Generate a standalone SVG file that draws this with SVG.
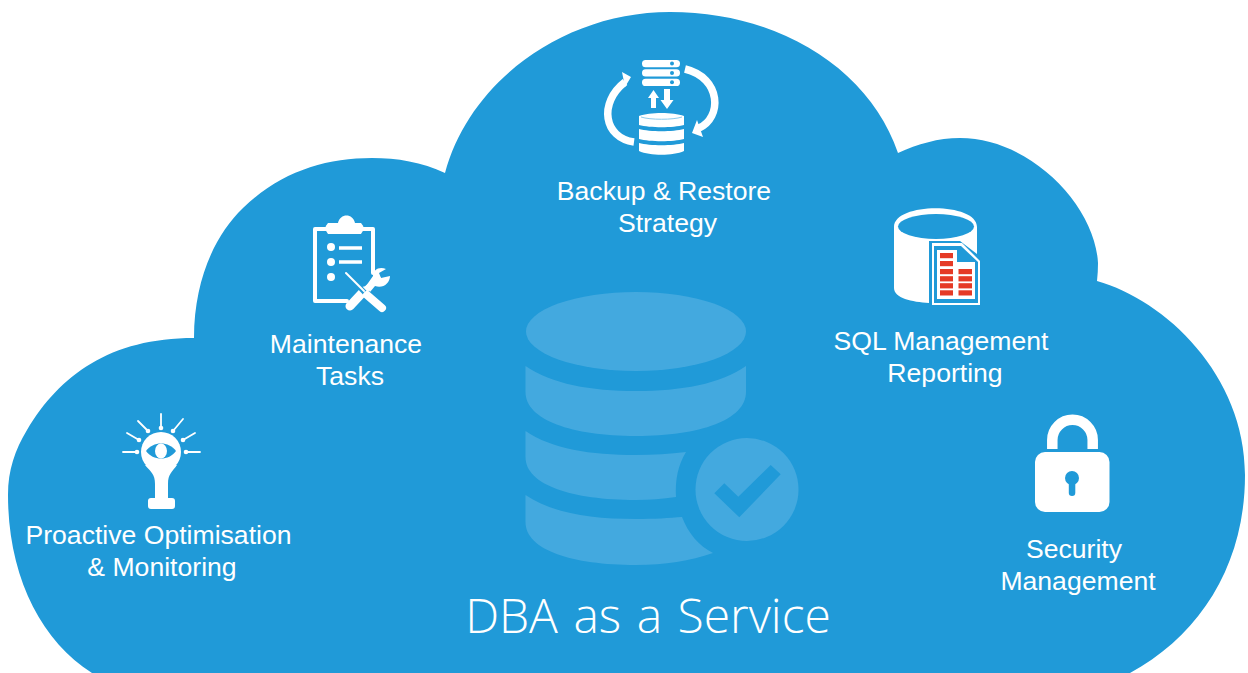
<svg xmlns="http://www.w3.org/2000/svg" width="1248" height="673" viewBox="0 0 1248 673">
<style>
.l{font-family:"Liberation Sans",Arial,sans-serif;font-size:26.6px;fill:#fff;text-anchor:middle}
.w{fill:#fff}
.s{fill:none;stroke:#fff;stroke-linecap:round;stroke-linejoin:round}
.t{fill:none;stroke:#fff;stroke-linecap:butt}
.b{fill:#209ad8}
.r{fill:#e53a26}
.f{fill:#43a9df}
</style>
<rect width="1248" height="673" fill="#fff"/>
<g id="cloud"><path class="b" d="M92 673C40 640 8 575 8 495C8 470 15 450 27 430C60 375 110 338 194 338C194 280 215 235 243 208C280 172 325 158 372 158C397 158 422 162 445 173C470 80 565 12 670 12C780 12 870 70 898 153C918 144 938 138 960 138C1030 138 1095 205 1098 263Q1098 272 1097 281C1165 300 1245 375 1245 475C1245 565 1200 635 1130 673Z"/></g>
<g id="center-db">
<ellipse class="f" cx="636" cy="331.500" rx="110" ry="39.500"/>
<path class="f" d="M525.500 366C552 384 590 391 636 391C682 391 720 384 746 366V392C746 420 700 436 636 436C572 436 525.500 420 525.500 392Z"/>
<path class="f" d="M525.500 431C552 449 590 455 636 455C654 455 670 454 686 452C678 465 675 480 676 497C662 499 650 500 636 500C572 500 525.500 485 525.500 457Z"/>
<path class="f" d="M525.500 495C552 513 590 519 636 519C654 519 670 518 682 517C688 533 699 546 713 553C690 561 665 565 636 565C572 565 525.500 550 525.500 522Z"/>
<circle class="f" cx="747" cy="489.500" r="51.500"/>
<path class="b" d="M714.300 493.300L724.300 483.300L738.300 496.700L770.700 465L780.700 474.300L739.300 517.300Z"/>
</g>
<g id="backup">
<g class="w"><rect x="642" y="60" width="38" height="7.300" rx="3.600"/><rect x="642" y="69.300" width="38" height="7.300" rx="3.600"/><rect x="642" y="78.700" width="38" height="7.300" rx="3.600"/></g>
<g class="b"><circle cx="672" cy="63.600" r="2"/><circle cx="672" cy="73" r="2"/><circle cx="672" cy="82.300" r="2"/></g>
<path class="w" d="M648 98L653.500 90L659 98H656V108H651V98ZM664 89H670V100H673.500L667 109L660.500 100H664Z"/>
<path class="w" d="M639 116C650 112 673 112 684 116V125C673 128 650 128 639 125ZM639 129C650 132 673 132 684 129V139C673 142 650 142 639 139ZM639 143C650 146 673 146 684 143V151C673 156 650 156 639 151Z"/>
<path d="M641 117C650 120 673 120 682 117" fill="none" stroke="#8ccbec" stroke-width="1"/>
<path class="t" stroke-width="7.500" d="M634 142C604 138 598 103 625 82M685 69C722 78 722 118 699 128"/>
<path class="w" d="M622 72L631 77L625 87ZM692 133L697 120L703 137Z"/>
</g>
<g id="maintenance">
<path class="s" stroke-width="4" d="M329 229H315V301H347M360 229H373V273"/>
<path class="w" d="M328 223H338C340 213 353 213 355 223H361Q366 228 361 234H328Q323 228 328 223Z"/>
<circle class="w" cx="331" cy="247" r="4"/><circle class="w" cx="331" cy="262" r="4"/><circle class="w" cx="331" cy="277" r="4"/>
<path class="t" stroke-width="3.400" d="M339 248H362M339 262H362"/>
<path class="s" stroke-width="9" d="M350 306L364 291"/>
<path class="s" stroke-width="6" d="M364 291L378 279"/>
<path class="w" d="M366 286L373 276C373 270 379 266 386 269L379 273L381 278L390 276C390 283 383 289 375 286L370 292Z"/>
<path d="M350 277L366 294" stroke="#209ad8" stroke-width="5" fill="none"/>
<path d="M367 296L382 309" stroke="#209ad8" stroke-width="11" fill="none"/>
<path class="s" stroke-width="2" d="M346 273L364 291"/>
<path class="s" stroke-width="8" d="M367 295L382 308"/>
</g>
<g id="sql">
<path class="w" d="M894 227C894 202 977 202 977 227V254L960 241H929V303C912 302 894 298 894 288Z"/>
<ellipse class="b" cx="936" cy="226.500" rx="38" ry="12.500"/>
<path class="w" d="M932 243H962L980 261V305H932Z"/>
<path class="b" d="M934 246H961L978 262V303H934Z"/>
<path class="w" d="M937 250H957V262H975V299H937Z"/>
<g class="r"><rect x="940" y="253" width="13" height="5.200"/><rect x="940" y="261" width="13" height="5.200"/><rect x="940" y="269" width="13" height="5.200"/><rect x="940" y="276.200" width="13" height="5.200"/><rect x="940" y="283.200" width="13" height="5.200"/><rect x="940" y="290.300" width="13" height="5.200"/><rect x="958.500" y="269" width="13.500" height="5.200"/><rect x="958.500" y="276.200" width="13.500" height="5.200"/><rect x="958.500" y="283.200" width="13.500" height="5.200"/><rect x="958.500" y="290.300" width="13.500" height="5.200"/></g>
</g>
<g id="proactive">
<circle class="w" cx="161" cy="452" r="20"/>
<path class="w" d="M145 465C151 472 155 474 155 484V498H151Q148 498 148 501V506Q148 509 151 509H172Q175 509 175 506V501Q175 498 172 498H168V484C168 474 172 472 177 465Z"/>
<path class="b" d="M146 451C153 441 169 441 176 451C169 461 153 461 146 451Z"/><ellipse class="w" cx="161" cy="451" rx="6" ry="7.500"/>
<g class="s" stroke-width="1.800"><path d="M161 414V428M138 421L148 431M127 433L139 440M123 452H137M186 452H200M183 440L195 433M173 431L183 419"/></g>
<g class="w"><circle cx="161" cy="428" r="2.300"/><circle cx="148" cy="431" r="2.300"/><circle cx="139" cy="440" r="2.300"/><circle cx="137" cy="452" r="2.300"/><circle cx="186" cy="452" r="2.300"/><circle cx="183" cy="440" r="2.300"/><circle cx="173" cy="431" r="2.300"/></g>
</g>
<g id="security">
<path class="t" stroke-width="10.500" d="M1052.300 449V440A20.200 20.200 0 0 1 1092.700 440V449"/>
<rect class="w" x="1035" y="452" width="74.500" height="60" rx="10"/>
<circle class="b" cx="1072" cy="478" r="7"/><rect class="b" x="1068.800" y="478" width="6.500" height="18" rx="3.200"/>
</g>
<g id="labels">
<text class="l" x="664" y="200">Backup &amp; Restore</text><text class="l" x="667.500" y="232">Strategy</text>
<text class="l" x="346" y="353">Maintenance</text><text class="l" x="350" y="385">Tasks</text>
<text class="l" x="941" y="350">SQL Management</text><text class="l" x="945" y="382">Reporting</text>
<text class="l" x="158.500" y="544">Proactive Optimisation</text><text class="l" x="162" y="576">&amp; Monitoring</text>
<text class="l" x="1074" y="558">Security</text><text class="l" x="1078" y="590">Management</text>
<text x="648" y="633" style="font-family:'Open Sans','Liberation Sans',sans-serif;font-weight:300;font-size:48px;word-spacing:3px;fill:#fff;text-anchor:middle">DBA as a Service</text>
</g>
</svg>
